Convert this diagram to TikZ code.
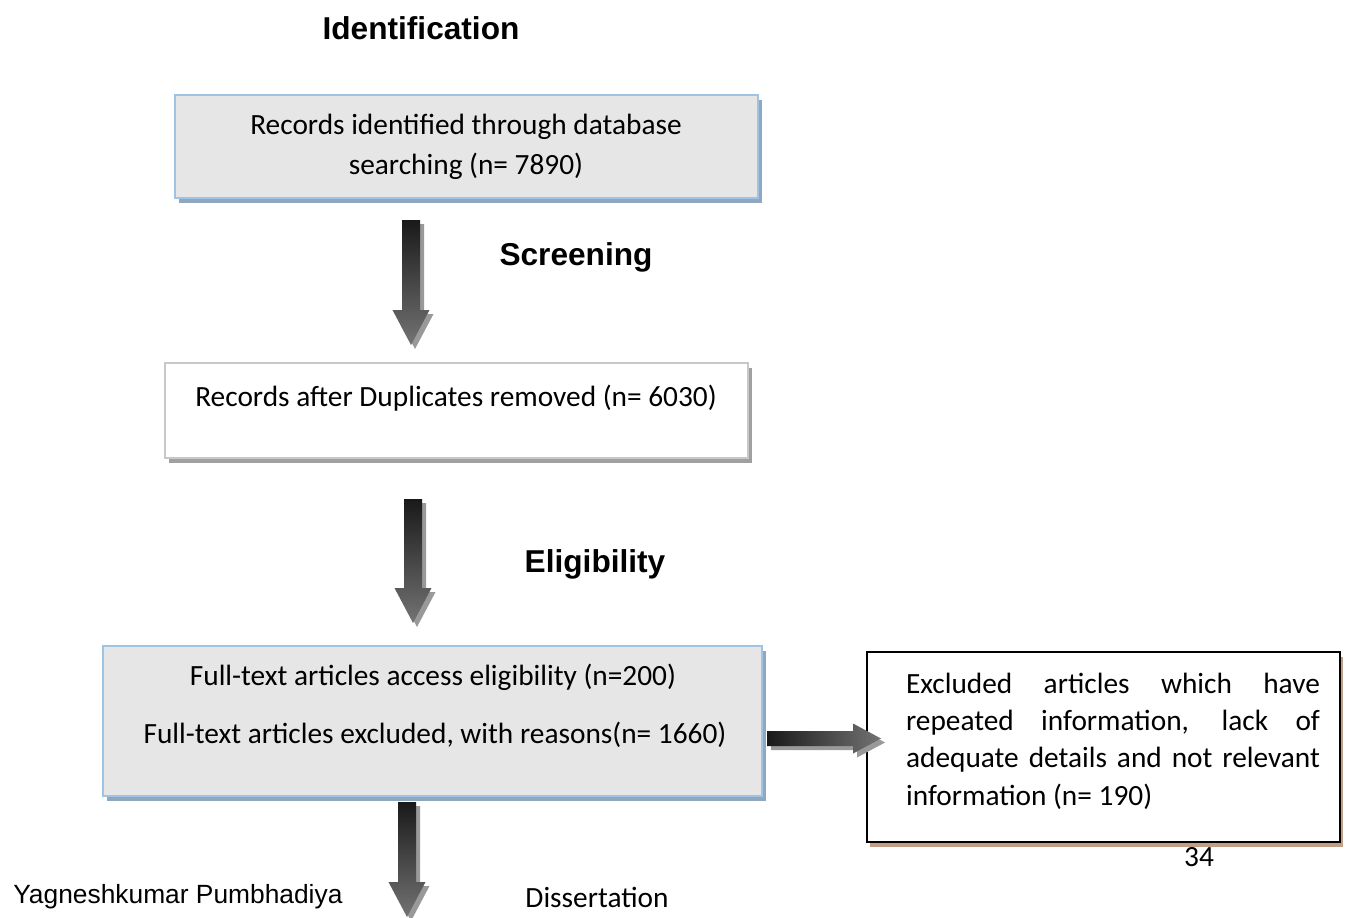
\documentclass[tikz,border=0pt]{standalone}
\usepackage{fontspec}
\usetikzlibrary{shadows}
\newfontfamily\calib{Carlito}
\newfontfamily\arialf{Liberation Sans}

\definecolor{boxgrey}{HTML}{E6E6E6}
\definecolor{boxblue}{HTML}{9DC3E6}
\definecolor{shadowblue}{HTML}{8FA8C0}
\definecolor{lightline}{HTML}{C8C8C8}
\definecolor{shadowgrey}{HTML}{A0A0A0}
\definecolor{shadowtan}{HTML}{C29E86}

\tikzset{
  heading/.style={font=\arialf\bfseries\fontsize{18}{22}\selectfont},
  boxtext/.style={font=\calib\fontsize{16.7}{21.2}\selectfont, inner sep=0pt},
  greybox/.style={draw=boxblue, line width=1.1pt, fill=boxgrey,
    drop shadow={shadow xshift=0.08cm, shadow yshift=-0.1cm, fill=shadowblue, opacity=1}},
  whitebox/.style={draw=lightline, line width=1.1pt, fill=white,
    drop shadow={shadow xshift=0.08cm, shadow yshift=-0.1cm, fill=shadowgrey, opacity=1}},
  notebox/.style={draw=black, line width=1.4pt, fill=white,
    drop shadow={shadow xshift=0.06cm, shadow yshift=-0.1cm, fill=shadowtan, opacity=1}},
  arrowshadow/.style={fill=black!40},
  arrowdown/.style={top color=black!90, middle color=black!25, bottom color=black!55},
  arrowright/.style={left color=black!90, middle color=black!25, right color=black!55}
}

% fat block arrows: start coordinate, length (px)
\newcommand{\fatdown}[2]{%
  \foreach \s/\d in {arrowshadow/4, arrowdown/0}
    \path[\s, shift={(#1)}, shift={(\d,\d)}]
      (-9,0) -- (9,0) -- (9,#2-35) -- (18.5,#2-35) -- (0,#2)
      -- (-18.5,#2-35) -- (-9,#2-35) -- cycle;
}
\newcommand{\fatright}[2]{%
  \foreach \s/\d in {arrowshadow/4, arrowright/0}
    \path[\s, shift={(#1)}, shift={(\d,\d)}]
      (0,-7.5) -- (#2-28,-7.5) -- (#2-28,-15) -- (#2,0)
      -- (#2-28,15) -- (#2-28,7.5) -- (0,7.5) -- cycle;
}

\begin{document}
\begin{tikzpicture}[x=0.02cm, y=-0.02cm]
    \useasboundingbox (0,0) rectangle (1349,917);

    % phases
    \node[heading] (ident) at (421,28) {Identification};
    \node[heading] (screen) at (576,257) {Screening};
    \node[heading] (elig) at (595,564) {Eligibility};

    % boxes
    \node[greybox, minimum width=11.66cm, minimum height=2.06cm] (recbox) at (466.5,146.5) {};
    \node[boxtext, align=center] (rectxt) at (466,147) {Records identified through database\\[1.3pt]searching (n= 7890)};

    \node[whitebox, minimum width=11.66cm, minimum height=1.9cm] (dupbox) at (456.5,410.5) {};
    \node[boxtext] (duptxt) at (456,398) {Records after Duplicates removed (n= 6030)};

    \node[greybox, minimum width=13.18cm, minimum height=3cm] (fullbox) at (432.5,721) {};
    \node[boxtext] (fulltxta) at (433,677) {Full-text articles access eligibility (n=200)};
    \node[boxtext] (fulltxtb) at (435,735) {Full-text articles excluded, with reasons(n= 1660)};

    \node[notebox, minimum width=9.46cm, minimum height=3.8cm] (exclbox) at (1103.5,747) {};
    \node[boxtext, text width=8.28cm, align=justify] (excltxt) at (1113,741)
      {Excluded articles which have\linebreak repeated information, lack of\linebreak adequate details and not relevant\linebreak information (n= 190)};

    % arrows
    \coordinate (arrA) at (411,220);
    \coordinate (arrB) at (413,499);
    \coordinate (arrC) at (407,802);
    \coordinate (arrD) at (767,738.5);
    \fatdown{arrA}{125}
    \fatdown{arrB}{124}
    \fatdown{arrC}{115}
    \fatright{arrD}{114}

    % footer
    \node[boxtext] (pagenum) at (1199,857) {34};
    \node[font=\arialf\fontsize{15}{18}\selectfont, inner sep=0pt, anchor=west] (author) at (13,897) {Yagneshkumar Pumbhadiya};
    \node[boxtext] (diss) at (597,897) {Dissertation};
\end{tikzpicture}
\end{document}
